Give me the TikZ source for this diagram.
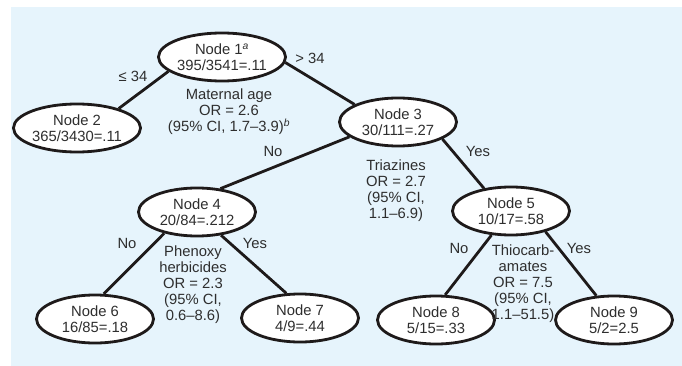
\documentclass[tikz,border=0pt]{standalone}
\usepackage{fontspec}
\setmainfont{Liberation Sans}
\usetikzlibrary{shapes.geometric}
\definecolor{panelblue}{HTML}{E6F4FC}
\definecolor{inkgray}{HTML}{2E2E2E}
\definecolor{inkline}{HTML}{1E1A1A}
\begin{document}
\begin{tikzpicture}[x=1pt,y=-1pt,
  txt/.style={font=\fontsize{14.8}{16}\selectfont, text=inkgray},
  treenode/.style={ellipse, draw=inkline, line width=2.8pt, fill=white,
    minimum width=117pt, minimum height=48pt, inner sep=0pt, align=center, txt},
  branch/.style={draw=inkline, line width=2.8pt},
  lbl/.style={txt, align=center, inner sep=0pt}]

% canvas and panel
\useasboundingbox (0,0) rectangle (682,366);
\fill[panelblue] (11,7) rectangle (682,366);

% tree nodes
\node[treenode] (n1) at (222,57)  {Node 1\textsuperscript{\itshape a}\\395/3541=.11};
\node[treenode] (n2) at (77,128)  {Node 2\\365/3430=.11};
\node[treenode] (n3) at (398,122) {Node 3\\30/111=.27};
\node[treenode] (n4) at (197,212) {Node 4\\20/84=.212};
\node[treenode] (n5) at (511,211) {Node 5\\10/17=.58};
\node[treenode] (n6) at (95,319)  {Node 6\\16/85=.18};
\node[treenode] (n7) at (300,318) {Node 7\\4/9=.44};
\node[treenode] (n8) at (436,320) {Node 8\\5/15=.33};
\node[treenode] (n9) at (614,320) {Node 9\\5/2=2.5};

% branches
\draw[branch] (n1.195) -- (n2.25);
\draw[branch] (n1.355) -- (n3.158);
\draw[branch] (n3.197) -- (n4.45);
\draw[branch] (n3.339) -- (n5.140);
\draw[branch] (n4.213) -- (n6.71);
\draw[branch] (n4.316) -- (n7.119);
\draw[branch] (n5.231) -- (n8.70);
\draw[branch] (n5.329) -- (n9.126);

% branch labels
\node[lbl] (l12) at (133,76)  {≤ 34};
\node[lbl] (l13) at (310,58)  {> 34};
\node[lbl] (l34) at (273,151) {No};
\node[lbl] (l35) at (478,151) {Yes};
\node[lbl] (l46) at (127,243) {No};
\node[lbl] (l47) at (255,243) {Yes};
\node[lbl] (l58) at (459,248) {No};
\node[lbl] (l59) at (579,248) {Yes};

% split statistics
\node[lbl] (s1) at (229,112) {Maternal age\\OR = 2.6\\(95\% CI, 1.7--3.9)\textsuperscript{\itshape b}};
\node[lbl] (s3) at (396,191) {Triazines\\OR = 2.7\\(95\% CI,\\1.1--6.9)};
\node[lbl] (s4) at (193,285) {Phenoxy\\herbicides\\OR = 2.3\\(95\% CI,\\0.6--8.6)};
\node[lbl] (s5) at (523,284) {Thiocarb-\\amates\\OR = 7.5\\(95\% CI,\\1.1--51.5)};
\end{tikzpicture}
\end{document}
